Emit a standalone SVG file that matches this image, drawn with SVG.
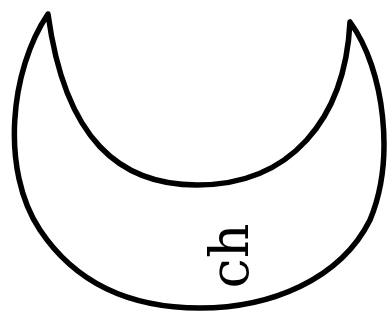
<svg xmlns="http://www.w3.org/2000/svg" width="390" height="322" viewBox="0 0 390 322">
<style>
.shape{fill:#fff;stroke:#000;stroke-width:5.5;stroke-linejoin:round}
.lbl{font-family:"DejaVu Serif","Liberation Serif",serif;font-size:54px;fill:#000}
</style>
<rect width="390" height="322" fill="#fff"/>
<g id="crescent">
<path class="shape" d="M48,14 C10,70 0,170 40,230 C80,290 140,308 200,308 C270,308 340,280 370,220 C395,160 385,70 350,22 C345,120 290,185 197,185 C120,185 65,140 48,14 Z"/>
<text class="lbl" text-anchor="middle" transform="translate(248,256) rotate(-90)">ch</text>
</g>
</svg>
